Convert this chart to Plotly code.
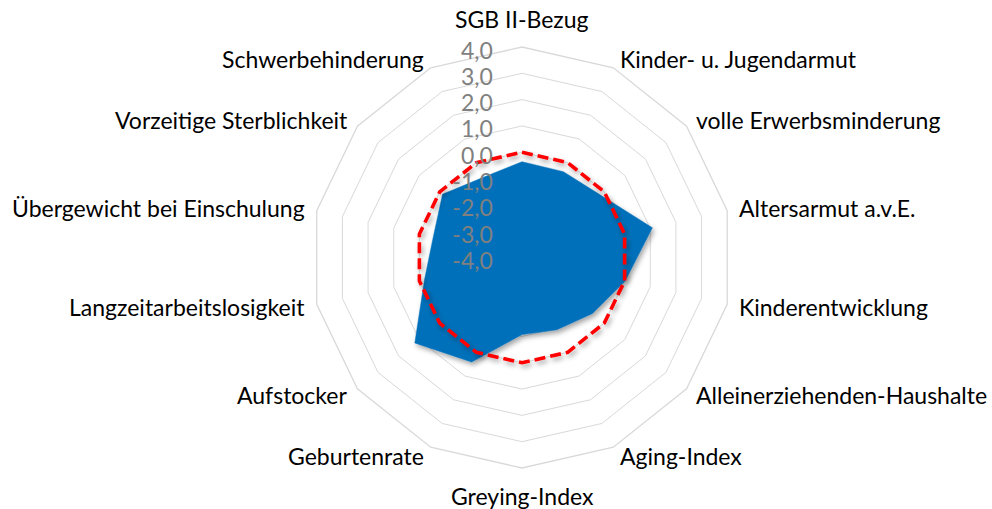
import math
import plotly.graph_objects as go

# Indikatoren (Reihenfolge im Uhrzeigersinn ab 12 Uhr)
categories = [
    "SGB II-Bezug",
    "Kinder- u. Jugendarmut",
    "volle Erwerbsminderung",
    "Altersarmut a.v.E.",
    "Kinderentwicklung",
    "Alleinerziehenden-Haushalte",
    "Aging-Index",
    "Greying-Index",
    "Geburtenrate",
    "Aufstocker",
    "Langzeitarbeitslosigkeit",
    "Übergewicht bei Einschulung",
    "Vorzeitige Sterblichkeit",
    "Schwerbehinderung",
]

# standardisierte Werte des Stadtteils
district_values = [-0.36, -0.38, -0.19, 1.08, 0.02, -0.58, -0.95, -1.07,
                   0.41, 1.21, -0.2, -0.54, -0.14, -0.62]

# Referenzlinie (Stadtdurchschnitt = 0)
reference_values = [0.0, 0.0, 0.0, 0.0, 0.0, 0.0, 0.0,
                    0.0, 0.0, 0.0, 0.0, 0.0, 0.0, 0.0]

radial_ticks = [-4, -3, -2, -1, 0, 1, 2, 3, 4]
radial_tick_labels = ["-4,0", "-3,0", "-2,0", "-1,0", "0,0",
                      "1,0", "2,0", "3,0", "4,0"]

W, H = 992, 509
cx, cy, R = 522, 257.5, 210.5  # Mittelpunkt und Radius in Pixeln

FONT = "Lato"
FONT_SIZE = 23

fig = go.Figure()

cats_closed = categories + categories[:1]

fig.add_trace(go.Scatterpolar(
    r=district_values + district_values[:1],
    theta=cats_closed,
    mode="lines",
    fill="toself",
    fillcolor="#0070BA",
    line=dict(color="#0070BA", width=0.5),
    showlegend=False,
    hoverinfo="skip",
))

fig.add_trace(go.Scatterpolar(
    r=reference_values + reference_values[:1],
    theta=cats_closed,
    mode="lines",
    line=dict(color="#FF0000", width=3.6, dash="11px,5px"),
    showlegend=False,
    hoverinfo="skip",
))

# Achsenbeschriftungen der Indikatoren außen an den Ecken des Netzes
n = len(categories)
annotations = []
for i, label in enumerate(categories):
    ang = 2 * math.pi * i / n
    s, c = math.sin(ang), math.cos(ang)
    if abs(s) < 0.01:
        dist = R + 12
        xanchor = "center"
        yanchor = "bottom" if c > 0 else "top"
    else:
        dist = R + 10
        xanchor = "left" if s > 0 else "right"
        yanchor = "middle"
    px = cx + dist * s
    py = cy - dist * c
    annotations.append(dict(
        text=label,
        x=px / W,
        y=1 - py / H,
        xref="paper",
        yref="paper",
        xanchor=xanchor,
        yanchor=yanchor,
        showarrow=False,
        font=dict(family=FONT, size=FONT_SIZE, color="#000000"),
    ))

fig.update_layout(
    width=W,
    height=H,
    autosize=False,
    margin=dict(l=0, r=0, t=0, b=0),
    paper_bgcolor="white",
    plot_bgcolor="white",
    separators=",.",
    font=dict(family=FONT, size=FONT_SIZE, color="#000000"),
    annotations=annotations,
    polar=dict(
        domain=dict(
            x=[(cx - R) / W, (cx + R) / W],
            y=[(H - cy - R) / H, (H - cy + R) / H],
        ),
        bgcolor="white",
        gridshape="linear",
        angularaxis=dict(
            type="category",
            categoryorder="array",
            categoryarray=categories,
            rotation=90,
            direction="clockwise",
            showgrid=False,
            showline=True,
            linecolor="#D9D9D9",
            linewidth=1.3,
            ticks="",
            showticklabels=False,
        ),
        radialaxis=dict(
            range=[-4, 4],
            tickvals=radial_ticks,
            ticktext=radial_tick_labels,
            angle=90,
            side="counterclockwise",
            showline=False,
            showgrid=True,
            gridcolor="#D9D9D9",
            gridwidth=1.3,
            ticks="outside",
            ticklen=8,
            tickcolor="rgba(0,0,0,0)",
            tickfont=dict(family=FONT, size=FONT_SIZE, color="#808080"),
            layer="above traces",
        ),
    ),
)

# weicher Schlagschatten unter den Datenreihen
post = """
var gd = document.getElementById('{plot_id}');
function addShadow(){
  var svg = gd.querySelector('svg.main-svg');
  if(!svg) return;
  var ns = 'http://www.w3.org/2000/svg';
  var defs = svg.querySelector('defs');
  if(!defs){ defs = document.createElementNS(ns,'defs'); svg.insertBefore(defs, svg.firstChild); }
  if(!svg.querySelector('#seriesShadow')){
    var f = document.createElementNS(ns,'filter');
    f.setAttribute('id','seriesShadow');
    f.setAttribute('x','-20%'); f.setAttribute('y','-20%');
    f.setAttribute('width','140%'); f.setAttribute('height','140%');
    var d = document.createElementNS(ns,'feDropShadow');
    d.setAttribute('dx','2'); d.setAttribute('dy','3');
    d.setAttribute('stdDeviation','2.5');
    d.setAttribute('flood-color','#000'); d.setAttribute('flood-opacity','0.35');
    f.appendChild(d); defs.appendChild(f);
  }
  gd.querySelectorAll('g.scatterlayer g.trace').forEach(function(t){
    t.setAttribute('filter','url(#seriesShadow)');
  });
}
addShadow();
gd.on('plotly_afterplot', addShadow);
"""

fig.write_html("out.html", post_script=post, config={"displayModeBar": False})
